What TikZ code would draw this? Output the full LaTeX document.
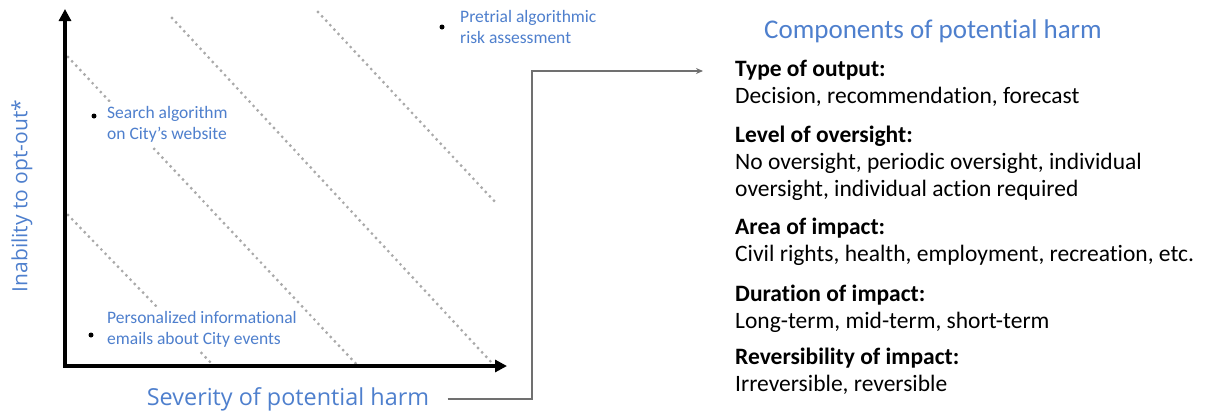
\documentclass[tikz,border=0pt]{standalone}
\usepackage{fontspec}
\setmainfont{Carlito}[Ligatures=NoCommon]
\newfontfamily\axisfont{Open Sans}
\usepackage{xcolor}
\definecolor{harm}{HTML}{4E7FCD}
\definecolor{gridgray}{HTML}{AAAAAA}
\definecolor{wiregray}{HTML}{707070}
\usetikzlibrary{arrows.meta,positioning}
\tikzset{
  axisline/.style={line width=3.5pt,line join=miter,{Triangle[length=12pt,width=12pt]}-{Triangle[length=12pt,width=12pt]}},
  band/.style={draw=gridgray,line width=3.2pt,line cap=round,dash pattern=on 0pt off 6pt},
  caselab/.style={font=\fontsize{17.5}{21}\selectfont,text=harm,align=left,anchor=west,fill=white,inner sep=4pt},
  bullet/.style={circle,fill=black,inner sep=0pt,minimum size=5pt},
  axlab/.style={font=\axisfont\fontsize{23.4}{27}\selectfont,text=harm},
  compline/.style={font=\fontsize{23.5}{27}\selectfont,align=left,anchor=north west,inner sep=0pt},
  wirearrow/.style={draw=wiregray,line width=1.5pt,-{Stealth[length=7pt,width=6pt]}},
}

\begin{document}
\begin{tikzpicture}[x=1pt,y=-1pt]
\useasboundingbox (0,0) rectangle (1206,413);
\draw[band] (68,215) -- (214,366);
\draw[band] (68,57) -- (358,366);
\draw[band] (172,18) -- (492,363);
\draw[band] (318,12) -- (496,203);
\coordinate (o) at (65,366);
\coordinate (ytop) at (65,9);
\coordinate (xend) at (507,366);
\draw[axisline] (ytop) -- (o) -- (xend);
\node[bullet] (p1) at (442,27) {};
\node[caselab] (pretrial) at (456,27) {Pretrial algorithmic\\risk assessment};
\node[bullet] (p2) at (94,116) {};
\node[caselab] (search) at (103,124) {Search algorithm\\on City's website};
\node[bullet] (p3) at (91,335) {};
\node[caselab] (emails) at (103,329) {Personalized informational\\emails about City events};
\node[axlab] (xlab) at (288,399) {Severity of potential harm};
\node[axlab,font=\axisfont\fontsize{21}{25}\selectfont,rotate=90] (ylab) at (22,196) {Inability to opt-out*};
\node[font=\fontsize{27}{32}\selectfont,text=harm] (title) at (933,31) {Components of potential harm};
\node[compline] (output) at (735,60) {\textbf{Type of output:}\\Decision, recommendation, forecast};
\node[compline] (oversight) at (735,126) {\textbf{Level of oversight:}\\No oversight, periodic oversight, individual\\oversight, individual action required};
\node[compline] (area) at (735,218) {\textbf{Area of impact:}\\Civil rights, health, employment, recreation, etc.};
\node[compline] (duration) at (735,285) {\textbf{Duration of impact:}\\Long-term, mid-term, short-term};
\node[compline] (revers) at (735,348) {\textbf{Reversibility of impact:}\\Irreversible, reversible};
\coordinate (bend) at (532,71);
\coordinate (tip) at (703,71);
\draw[wirearrow] ([xshift=15pt]xlab.east) -| (bend) -- (tip);
\end{tikzpicture}
\end{document}
